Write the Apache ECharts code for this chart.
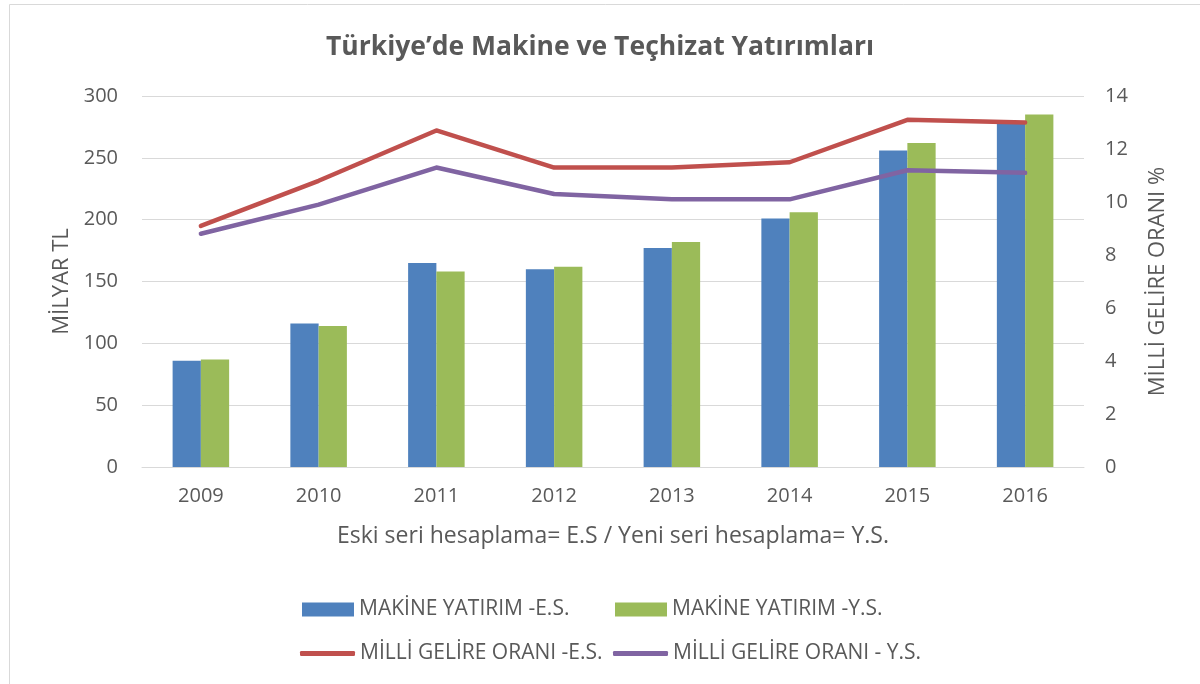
<!DOCTYPE html>
<html>
<head>
<meta charset="utf-8">
<script src="https://cdn.jsdelivr.net/npm/echarts@6/dist/echarts.min.js"></script>
<style>
html,body{margin:0;padding:0;background:#fff;}
#chart{width:1200px;height:684px;}
</style>
</head>
<body>
<div id="chart"></div>
<script>
const categories = ['2009','2010','2011','2012','2013','2014','2015','2016'];
const makineES = [86, 116, 165, 160, 177, 201, 256, 278];
const makineYS = [87, 114, 158, 162, 182, 206, 262, 285];
const oranES = [9.1, 10.8, 12.7, 11.3, 11.3, 11.5, 13.1, 13.0];
const oranYS = [8.8, 9.9, 11.3, 10.3, 10.1, 10.1, 11.2, 11.1];
const leftTicks = [0, 50, 100, 150, 200, 250, 300];
const rightTicks = [0, 2, 4, 6, 8, 10, 12, 14];

const names = ['MAKİNE YATIRIM -E.S.', 'MAKİNE YATIRIM -Y.S.', 'MİLLİ GELİRE ORANI -E.S.', 'MİLLİ GELİRE ORANI - Y.S.'];
const FONT = 'Open Sans';
const TXT = '#595959';

const chart = echarts.init(document.getElementById('chart'));
const legendBase = {
  orient: 'horizontal',
  itemGap: 4,
  padding: 0,
  textStyle: {color: TXT, fontFamily: FONT, fontSize: 21},
  selectedMode: false
};
function barLegend(name, left, top) {
  return Object.assign({}, legendBase, {data: [{name: name, icon: 'rect'}], left: left, top: top, itemWidth: 52, itemHeight: 14});
}
function lineLegend(name, left, top) {
  return Object.assign({}, legendBase, {data: [{name: name, icon: 'roundRect'}], left: left, top: top, itemWidth: 55, itemHeight: 5});
}
chart.setOption({
  animation: false,
  backgroundColor: '#fff',
  graphic: [{
    type: 'rect', silent: true, z: -1,
    shape: {x: 9.5, y: 4.5, width: 1300, height: 800},
    style: {fill: 'none', stroke: '#d9d9d9', lineWidth: 1}
  }],
  title: {
    text: 'Türkiye’de Makine ve Teçhizat Yatırımları',
    left: 'center', top: 29,
    textStyle: {color: TXT, fontFamily: FONT, fontSize: 26.5, fontWeight: 'bold'}
  },
  legend: [
    barLegend(names[0], 302, 599),
    barLegend(names[1], 615, 599),
    lineLegend(names[2], 300, 643),
    lineLegend(names[3], 613, 643)
  ],
  grid: {left: 142, right: 116, top: 96, bottom: 217, containLabel: false},
  xAxis: {
    type: 'category',
    data: categories,
    name: 'Eski seri hesaplama= E.S / Yeni seri hesaplama= Y.S.',
    nameLocation: 'middle',
    nameGap: 58,
    nameTextStyle: {color: TXT, fontFamily: FONT, fontSize: 23},
    axisLine: {show: true, lineStyle: {color: '#d9d9d9', width: 1}},
    axisTick: {show: false},
    axisLabel: {color: TXT, fontFamily: FONT, fontSize: 20, margin: 19}
  },
  yAxis: [{
    type: 'value', min: 0, max: 300, interval: 50,
    name: 'MİLYAR TL',
    nameLocation: 'middle',
    nameGap: 68,
    nameTextStyle: {color: TXT, fontFamily: FONT, fontSize: 22},
    axisLine: {show: false}, axisTick: {show: false},
    axisLabel: {color: TXT, fontFamily: FONT, fontSize: 20, margin: 24,
      formatter: v => leftTicks.includes(v) ? String(v) : ''},
    splitLine: {show: true, lineStyle: {color: '#d9d9d9', width: 1}}
  }, {
    type: 'value', min: 0, max: 14, interval: 2,
    name: 'MİLLİ GELİRE ORANI %',
    nameLocation: 'middle',
    nameGap: 63,
    nameRotate: 90,
    nameTextStyle: {color: TXT, fontFamily: FONT, fontSize: 22},
    axisLine: {show: false}, axisTick: {show: false},
    axisLabel: {color: TXT, fontFamily: FONT, fontSize: 20, margin: 21,
      formatter: v => rightTicks.includes(v) ? String(v) : ''},
    splitLine: {show: false}
  }],
  series: [
    {name: names[0], type: 'bar', data: makineES, yAxisIndex: 0,
     barGap: '0%', barCategoryGap: '52%',
     itemStyle: {color: '#4F81BD'}},
    {name: names[1], type: 'bar', data: makineYS, yAxisIndex: 0,
     barGap: '0%', barCategoryGap: '52%',
     itemStyle: {color: '#9BBB59'}},
    {name: names[2], type: 'line', data: oranES, yAxisIndex: 1,
     symbol: 'none', z: 5,
     lineStyle: {color: '#C0504D', width: 4.5, cap: 'round', join: 'round'},
     itemStyle: {color: '#C0504D'}},
    {name: names[3], type: 'line', data: oranYS, yAxisIndex: 1,
     symbol: 'none', z: 5,
     lineStyle: {color: '#8064A2', width: 4.5, cap: 'round', join: 'round'},
     itemStyle: {color: '#8064A2'}}
  ]
});
</script>
</body>
</html>
